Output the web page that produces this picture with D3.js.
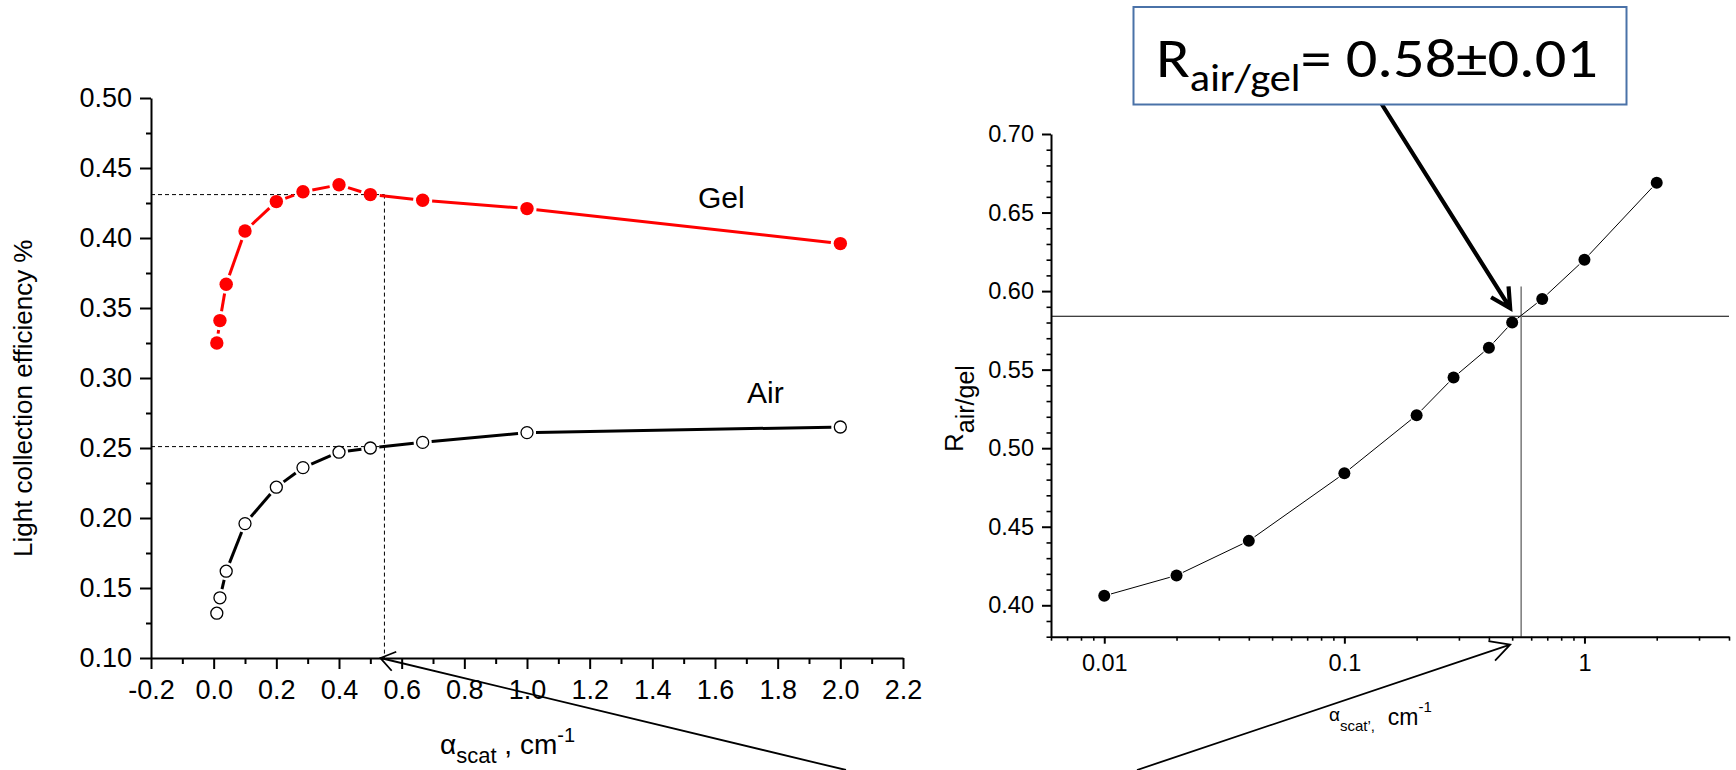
<!DOCTYPE html>
<html>
<head>
<meta charset="utf-8">
<script src="https://cdn.jsdelivr.net/npm/d3@7"></script>
<style>
  html, body { margin: 0; padding: 0; background: #fff; }
  svg { display: block; }
  text { font-family: "Liberation Sans", Arial, sans-serif; fill: #000; }
</style>
</head>
<body>
<script>
// scattering coefficient, cm^-1
const alpha = [0.01, 0.02, 0.04, 0.1, 0.2, 0.285, 0.4, 0.5, 0.667, 1.0, 2.0];
// light collection efficiency, %
const gel = [0.325, 0.341, 0.367, 0.405, 0.426, 0.433, 0.438, 0.431, 0.427, 0.421, 0.396];
const air = [0.132, 0.143, 0.162, 0.196, 0.222, 0.236, 0.247, 0.250, 0.254, 0.261, 0.265];
// ratio air / gel
const ratio = [0.406, 0.419, 0.441, 0.484, 0.521, 0.545, 0.564, 0.580, 0.595, 0.620, 0.669];

// read-off point
const crossAlpha = 0.545;
const gelAtCross = 0.431;
const airAtCross = 0.251;
const ratioAtCross = 0.584;

const leftYTicks = [0.10, 0.15, 0.20, 0.25, 0.30, 0.35, 0.40, 0.45, 0.50];
const leftXTicks = d3.range(-2, 23, 2).map(d => d / 10);
const rightYTicks = [0.40, 0.45, 0.50, 0.55, 0.60, 0.65, 0.70];
const rightXTicks = [0.01, 0.1, 1];

const W = 1736, H = 770;
const svg = d3.select("body").append("svg").attr("width", W).attr("height", H);

// plain hyphen for negatives, like the original
const fmt = d3.formatLocale({ decimal: ".", thousands: ",", grouping: [3], currency: ["", ""], minus: "-" });

// ---------- left chart ----------
const xL = d3.scaleLinear().domain([-0.2, 2.2]).range([151, 903]);
const yL = d3.scaleLinear().domain([0.10, 0.50]).range([658, 98]);

const left = svg.append("g");

// dashed read-off lines
const dash = left.append("g").attr("stroke", "#000").attr("stroke-width", 1).attr("stroke-dasharray", "4,3");
dash.append("line").attr("x1", xL(-0.2)).attr("x2", xL(crossAlpha)).attr("y1", yL(gelAtCross)).attr("y2", yL(gelAtCross));
dash.append("line").attr("x1", xL(-0.2)).attr("x2", xL(crossAlpha)).attr("y1", yL(airAtCross)).attr("y2", yL(airAtCross));
dash.append("line").attr("x1", xL(crossAlpha)).attr("x2", xL(crossAlpha)).attr("y1", yL(gelAtCross)).attr("y2", yL(0.10));

function styleAxis(g, fontSize, width) {
  g.select(".domain").attr("stroke-width", width);
  g.selectAll(".tick line").attr("stroke-width", width);
  g.selectAll("text").attr("font-size", fontSize).attr("font-family", '"Liberation Sans", Arial, sans-serif');
  g.attr("font-family", null).attr("font-size", null);
}

// minor ticks
left.append("g").attr("transform", `translate(151,0)`)
  .call(d3.axisLeft(yL).tickValues(d3.range(0.125, 0.5, 0.05)).tickSize(5).tickFormat(""))
  .call(g => { g.select(".domain").remove(); g.selectAll("line").attr("stroke-width", 2); });
left.append("g").attr("transform", `translate(0,658)`)
  .call(d3.axisBottom(xL).tickValues(d3.range(-1, 22, 2).map(d => d / 10)).tickSize(6).tickFormat(""))
  .call(g => { g.select(".domain").remove(); g.selectAll("line").attr("stroke-width", 2); });

left.append("g").attr("transform", `translate(151,0)`)
  .call(d3.axisLeft(yL).tickValues(leftYTicks).tickSize(11).tickSizeOuter(0).tickPadding(8).tickFormat(fmt.format(".2f")))
  .call(g => styleAxis(g, 27, 2));
left.append("g").attr("transform", `translate(0,658)`)
  .call(d3.axisBottom(xL).tickValues(leftXTicks).tickSize(11).tickSizeOuter(0).tickPadding(11).tickFormat(fmt.format(".1f")))
  .call(g => styleAxis(g, 27, 2));

// segments with a small gap at the markers
function gappedSegments(g, pts, gap, color, width) {
  for (let i = 0; i < pts.length - 1; i++) {
    const [x1, y1] = pts[i], [x2, y2] = pts[i + 1];
    const len = Math.hypot(x2 - x1, y2 - y1);
    if (len <= 2 * gap) continue;
    const ux = (x2 - x1) / len, uy = (y2 - y1) / len;
    g.append("line")
      .attr("x1", x1 + ux * gap).attr("y1", y1 + uy * gap)
      .attr("x2", x2 - ux * gap).attr("y2", y2 - uy * gap)
      .attr("stroke", color).attr("stroke-width", width);
  }
}

const gelPts = alpha.map((a, i) => [xL(a), yL(gel[i])]);
const airPts = alpha.map((a, i) => [xL(a), yL(air[i])]);

gappedSegments(left.append("g"), gelPts, 9.5, "#ff0000", 3);
gappedSegments(left.append("g"), airPts, 9, "#000", 3);

left.append("g").selectAll("circle").data(gelPts).join("circle")
  .attr("cx", d => d[0]).attr("cy", d => d[1]).attr("r", 6.7).attr("fill", "#ff0000");
left.append("g").selectAll("circle").data(airPts).join("circle")
  .attr("cx", d => d[0]).attr("cy", d => d[1]).attr("r", 6).attr("fill", "#fff")
  .attr("stroke", "#000").attr("stroke-width", 1.3);

left.append("text").attr("x", 698).attr("y", 208).attr("font-size", 30).text("Gel");
left.append("text").attr("x", 747).attr("y", 403).attr("font-size", 30).text("Air");

left.append("text").attr("transform", "translate(32,557) rotate(-90)").attr("font-size", 26)
  .text("Light collection efficiency %");

const xlabL = left.append("text").attr("x", 440);
xlabL.append("tspan").attr("y", 754).attr("font-size", 28).text("\u03b1");
xlabL.append("tspan").attr("y", 763).attr("font-size", 22).text("scat");
xlabL.append("tspan").attr("y", 754).attr("font-size", 28).text(" , cm");
xlabL.append("tspan").attr("y", 742).attr("font-size", 20).text("-1");

// ---------- right chart ----------
const xR = d3.scaleLog().domain([0.006, 4]).range([1051, 1729]);
const yR = d3.scaleLinear().domain([0.38, 0.70]).range([636.7, 134]);

const right = svg.append("g");

// read-off lines
right.append("line").attr("x1", xR(0.006)).attr("x2", xR(4))
  .attr("y1", yR(ratioAtCross)).attr("y2", yR(ratioAtCross))
  .attr("stroke", "#000").attr("stroke-width", 1.2);
right.append("line").attr("x1", xR(crossAlpha)).attr("x2", xR(crossAlpha))
  .attr("y1", yR(0.603)).attr("y2", yR(0.38))
  .attr("stroke", "#808080").attr("stroke-width", 1.6);

const minorX = [];
[0.001, 0.01, 0.1, 1].forEach(dec => { for (let k = 2; k <= 9; k++) { const v = +(dec * k).toPrecision(3); if (v >= 0.006 && v <= 4) minorX.push(v); } });

right.append("g").attr("transform", `translate(0,636.7)`)
  .call(d3.axisBottom(xR).tickValues(minorX).tickSize(4).tickFormat(""))
  .call(g => { g.select(".domain").remove(); g.selectAll("line").attr("stroke-width", 1.6); });
right.append("g").attr("transform", `translate(1051,0)`)
  .call(d3.axisLeft(yR).tickValues(d3.range(38, 71).filter(v => v % 5 !== 0).map(v => v / 100)).tickSize(4.5).tickFormat(""))
  .call(g => { g.select(".domain").remove(); g.selectAll("line").attr("stroke-width", 1.6); });

right.append("g").attr("transform", `translate(0,636.7)`)
  .call(d3.axisBottom(xR).tickValues(rightXTicks).tickSize(7).tickSizeOuter(0).tickPadding(11).tickFormat(d => String(d)))
  .call(g => styleAxis(g, 23.5, 2));
right.append("g").attr("transform", `translate(1051,0)`)
  .call(d3.axisLeft(yR).tickValues(rightYTicks).tickSize(9).tickSizeOuter(0).tickPadding(8).tickFormat(fmt.format(".2f")))
  .call(g => styleAxis(g, 23.5, 2));

const ratioPts = alpha.map((a, i) => [xR(a), yR(ratio[i])]);
gappedSegments(right.append("g"), ratioPts, 7, "#000", 1);
right.append("g").selectAll("circle").data(ratioPts).join("circle")
  .attr("cx", d => d[0]).attr("cy", d => d[1]).attr("r", 6).attr("fill", "#000");

const ylabR = right.append("text").attr("transform", "translate(963,452) rotate(-90)");
ylabR.append("tspan").attr("font-size", 26).text("R");
ylabR.append("tspan").attr("font-size", 25).attr("dy", 11).text("air/gel");

const xlabR = right.append("text").attr("x", 1329);
xlabR.append("tspan").attr("y", 721).attr("font-size", 19).text("\u03b1");
xlabR.append("tspan").attr("y", 731).attr("font-size", 15).text("scat\u2019,");
xlabR.append("tspan").attr("y", 725).attr("font-size", 23).text("\u00a0 cm");
xlabR.append("tspan").attr("y", 712).attr("font-size", 15).text("-1");

// ---------- annotation box + arrows ----------
function arrow(x1, y1, x2, y2, head, ang, width) {
  const a = Math.atan2(y1 - y2, x1 - x2), t = ang * Math.PI / 180;
  const p = d3.path();
  p.moveTo(x1, y1); p.lineTo(x2, y2);
  p.moveTo(x2 + head * Math.cos(a + t), y2 + head * Math.sin(a + t));
  p.lineTo(x2, y2);
  p.lineTo(x2 + head * Math.cos(a - t), y2 + head * Math.sin(a - t));
  svg.append("path").attr("d", p.toString()).attr("fill", "none")
    .attr("stroke", "#000").attr("stroke-width", width).attr("stroke-linejoin", "miter");
}

arrow(846, 770, xL(crossAlpha) - 4, yL(0.10), 17, 35, 1.8);
arrow(1137, 770, xR(crossAlpha) - 11, yR(0.38) + 8, 22, 28, 1.8);
arrow(1381, 103, xR(crossAlpha) - 11, yR(ratioAtCross) - 8, 22, 28, 4.2);

svg.append("rect").attr("x", 1133.5).attr("y", 7).attr("width", 493).attr("height", 97.5)
  .attr("fill", "#fff").attr("stroke", "#4a72a8").attr("stroke-width", 2);

const boxText = svg.append("text").style("font-family", 'Carlito, Calibri, Lato, "Open Sans", sans-serif');
boxText.append("tspan").attr("y", 77).attr("font-size", 56).text("R");
boxText.append("tspan").attr("y", 91).attr("font-size", 38).text("air/gel");
boxText.append("tspan").attr("y", 77).attr("font-size", 56).text("= 0.58\u00b10.01");
const bw = boxText.node().getBBox().width;
boxText.attr("transform", `translate(1156,0) scale(${442 / bw},1)`);
</script>
</body>
</html>
